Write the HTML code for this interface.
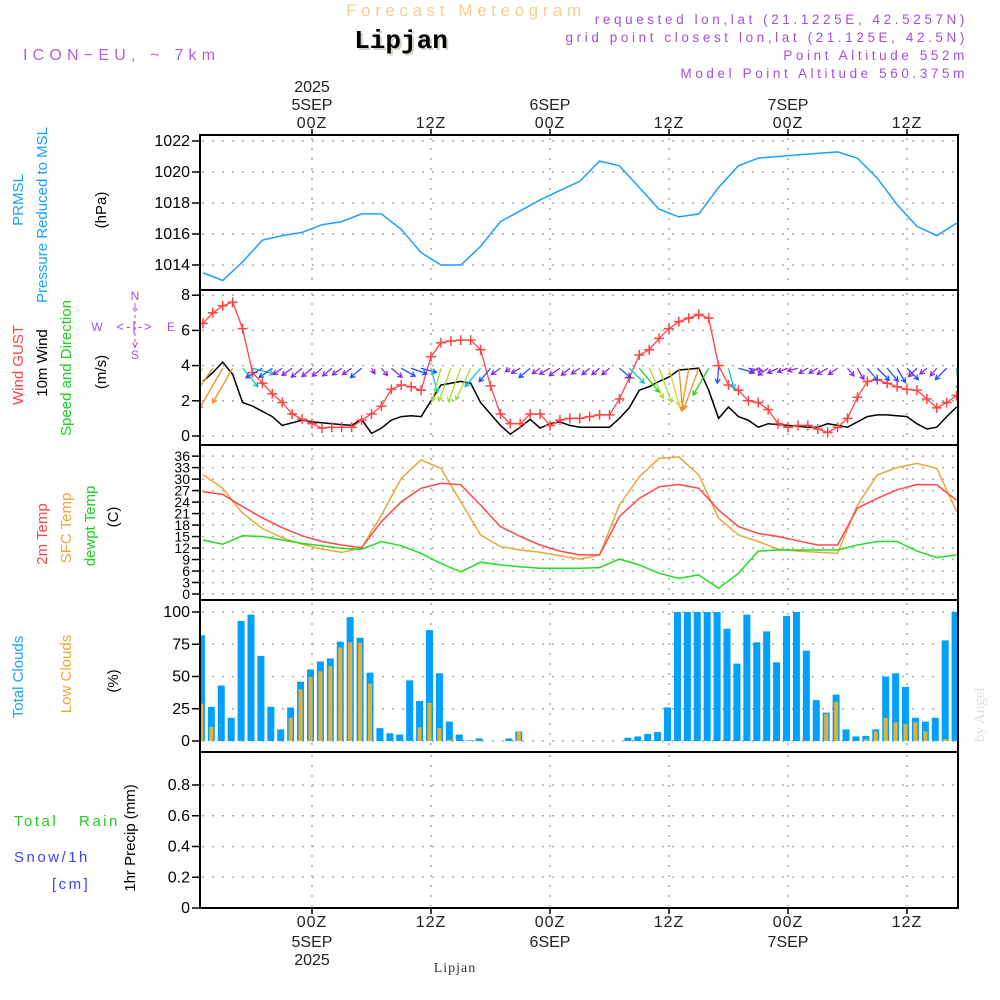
<!DOCTYPE html>
<html><head><meta charset="utf-8"><style>
html,body{margin:0;padding:0;background:#fff;}
svg{display:block;font-family:"Liberation Sans",sans-serif;}
</style></head><body>
<svg id="chart" width="1000" height="1000" viewBox="0 0 1000 1000" xmlns="http://www.w3.org/2000/svg">
<rect width="1000" height="1000" fill="#fff"/>
<text x="466" y="16" text-anchor="middle" font-size="17" letter-spacing="4.6" fill="#f5cf8c">Forecast Meteogram</text>
<text x="403" y="50" text-anchor="middle" font-family="Liberation Mono,monospace" font-weight="bold" font-size="26" fill="#cdd8c8">Lipjan</text>
<text x="401" y="48" text-anchor="middle" font-family="Liberation Mono,monospace" font-weight="bold" font-size="26" fill="#000">Lipjan</text>
<text x="23" y="60" font-size="16" letter-spacing="5.2" fill="#b060e0">ICON−EU, ~ 7km</text>
<g font-size="13.5" letter-spacing="3.6" fill="#a050e0" text-anchor="end">
<text x="968" y="24">requested lon,lat (21.1225E, 42.5257N)</text>
<text x="968" y="42">grid point closest lon,lat (21.125E, 42.5N)</text>
<text x="968" y="60">Point Altitude 552m</text>
<text x="968" y="78">Model Point Altitude 560.375m</text>
</g>
<g id="axislabels" font-size="14.5"></g>
<g id="plot"></g>
<text transform="translate(984,742) rotate(-90)" font-family="Liberation Serif,serif" font-size="15" fill="#d8e4d4">by Angel</text>
<text x="455" y="972" text-anchor="middle" font-family="Liberation Serif,serif" font-size="14" letter-spacing="1" fill="#333">Lipjan</text>
</svg>
<script>
// ---- data (hour offsets relative to 00Z 5 SEP) ----
const hours = [];
for (let h = -11; h <= 65; h++) hours.push(h);
const hours2 = [];
for (let h = -11; h <= 65; h += 2) hours2.push(h);
const timeTickHours = [0, 12, 24, 36, 48, 60];
const timeTickLabels = ["00Z", "12Z", "00Z", "12Z", "00Z", "12Z"];
const dateLabels = ["5SEP", "", "6SEP", "", "7SEP", ""];
const pressure = [1013.5,1013.0,1014.2,1015.6,1015.9,1016.1,1016.6,1016.8,1017.3,1017.3,1016.3,1014.8,1014.0,1014.0,1015.2,1016.8,1017.5,1018.2,1018.8,1019.4,1020.7,1020.4,1019.0,1017.6,1017.1,1017.3,1019.0,1020.4,1020.9,1021.0,1021.1,1021.2,1021.3,1020.9,1019.6,1017.9,1016.5,1015.9,1016.7];
const gust = [6.4,7.0,7.4,7.6,6.1,3.6,3.0,2.4,1.9,1.25,0.95,0.7,0.45,0.5,0.5,0.5,0.9,1.25,1.7,2.65,2.9,2.8,2.6,4.5,5.3,5.4,5.45,5.45,4.9,2.85,1.25,0.7,0.7,1.25,1.25,0.6,0.9,1.0,1.0,1.1,1.2,1.2,2.1,3.3,4.6,4.9,5.55,6.1,6.5,6.7,6.9,6.7,4.0,2.9,2.6,2.0,1.9,1.5,0.7,0.5,0.6,0.6,0.4,0.2,0.5,1.0,2.2,3.1,3.2,3.0,2.8,2.65,2.6,2.1,1.6,1.9,2.3];
const windSpeed = [3.1,3.6,4.2,3.5,1.9,1.7,1.4,1.1,0.6,0.75,0.9,0.8,0.75,0.7,0.65,0.6,0.95,0.15,0.45,0.9,1.1,1.15,1.1,2.0,2.9,3.0,3.1,3.0,1.9,1.25,0.6,0.1,0.5,0.95,0.45,0.7,0.8,0.6,0.5,0.5,0.5,0.5,1.0,1.6,2.6,2.8,3.1,3.35,3.75,3.8,3.85,2.6,1.0,1.65,1.1,0.9,0.5,0.7,0.65,0.6,0.55,0.5,0.5,0.7,0.6,0.5,0.8,1.1,1.2,1.2,1.15,1.1,0.7,0.4,0.5,1.1,1.65];
const windDir = [35,35,30,30,320,285,60,55,55,55,50,50,50,50,55,55,50,330,320,310,300,290,285,345,15,20,20,25,40,40,55,55,60,50,55,60,55,50,55,50,50,50,310,315,320,335,340,345,355,10,20,30,5,345,285,280,60,55,65,70,75,60,60,60,55,320,330,320,315,320,330,315,45,50,40,45,355];
const temp2m = [26.7,26.0,22.8,19.9,17.3,15.2,13.7,12.8,12.1,18.9,24.1,27.6,28.9,28.5,23.2,17.6,15.0,12.8,11.2,10.2,10.2,20.2,25.0,28.0,28.6,27.6,21.9,17.6,15.8,15.0,13.9,12.8,12.8,22.4,25.0,27.2,28.6,28.5,24.5];
const tempSfc = [31.2,27.6,21.1,17.1,14.7,13.0,11.7,10.9,12.0,20.6,30.2,35.0,32.8,24.1,15.4,12.4,11.5,10.9,10.0,9.1,10.2,23.2,30.6,35.4,35.8,31.1,19.8,15.4,13.7,11.7,11.2,10.9,10.6,23.2,31.1,33.0,34.1,32.8,21.5];
const dewpt = [14.1,13.0,15.2,15.0,14.1,13.2,12.6,11.9,11.7,13.7,12.6,10.6,8.0,5.8,8.3,7.6,7.1,6.7,6.7,6.7,6.9,9.1,7.6,5.4,4.1,5.0,1.5,5.4,11.2,11.5,11.5,11.5,11.5,12.8,13.7,13.7,11.2,9.5,10.2];
const totalClouds = [82,26.5,43,18,93,98,66,26.5,9,26,46,55.5,61.6,64,77,96,80,53,10,6,5,47,31,86,52.5,15,5,0.5,2,0,0,2,7.5,0,0,0,0,0,0,0,0,0,0,2.5,3.5,5.5,7,26,100,100,100,100,100,87,60,98,76.5,85,61,97,100,70,31.7,22,36,9,3.5,4,9,50,52.5,42,18,15,18,78,100];
const lowClouds = [29,11,0,0,0,0,0,0,0,18,40,49.6,54,58,72.5,76.5,76,44.5,0,0,0,0,10.6,29.6,10,1,0,0,0,0,0,0,7.5,0,0,0,0,0,0,0,0,0,0,0,0,0,0,0,0,0,0,0,0,0,0,0,0,0,0,0,0,0,0,21,30.5,0,0,1.5,7.5,18,14.5,13,14.5,7.5,0,1.5,0];
const precip = hours.map(() => 0);
const pressTicks = [1014,1016,1018,1020,1022];
const windTicks = [0,2,4,6,8];
const tempTicks = [0,3,6,9,12,15,18,21,24,27,30,33,36];
const cloudTicks = [0,25,50,75,100];
const precipTicks = [0,0.2,0.4,0.6,0.8];

// ---- layout ----
const X0 = 200, X1 = 958;
const xh = h => 312 + h * 9.917;
const panels = {
  p: {top:135, bot:290, y:v => 141 + (1022 - v) * 15.5},
  w: {top:290, bot:445, y:v => 436 - v * 17.6},
  t: {top:445, bot:600, y:v => 594 - v * 3.83},
  c: {top:600, bot:752, y:v => 741 - v * 1.29},
  r: {top:752, bot:908, y:v => 908 - v * 153.75}
};
const NS = "http://www.w3.org/2000/svg";
const plot = document.getElementById('plot');
const labs = document.getElementById('axislabels');
function mk(tag, attrs, parent) {
  const e = document.createElementNS(NS, tag);
  for (const k in attrs) e.setAttribute(k, attrs[k]);
  (parent || plot).appendChild(e);
  return e;
}
const defs = mk('defs', {});
const cp = mk('clipPath', {id:'clip'}, defs);
mk('rect', {x:X0, y:135, width:X1 - X0, height:773}, cp);

function panelFrame(key, ticks, fmt, name, fs) {
  const P = panels[key];
  ticks.forEach(v => {
    const y = P.y(v);
    const g = mk('line', {x1:X0 + 2, x2:X1 - 3, y1:y, y2:y, stroke:'#aaa', 'stroke-width':1.5, 'stroke-dasharray':'2,8'});
    
    
    mk('line', {x1:X0 - 8, x2:X0, y1:y, y2:y, stroke:'#000', 'stroke-width':1.5});
    const t = mk('text', {x:X0 - 10, y:y + 5, 'text-anchor':'end', 'font-size':fs || 16, fill:'#000'});
    t.textContent = fmt(v);
    
    
  });
  timeTickHours.forEach(h => {
    const vl = mk('line', {x1:xh(h), x2:xh(h), y1:P.top + 3, y2:P.bot - 2, stroke:'#aaa', 'stroke-width':1.5, 'stroke-dasharray':'2,8'});
    
    
  });
}
panelFrame('p', pressTicks, v => v, 'pressure-axis');
panelFrame('w', windTicks, v => v, 'wind-axis');
panelFrame('t', tempTicks, v => v, 'temp-axis', 14);
panelFrame('c', cloudTicks, v => v, 'cloud-axis');
panelFrame('r', precipTicks, v => v === 0 ? '0' : v.toFixed(1), 'precip-axis');

function line(xs, ys, color, name, w) {
  const d = xs.map((x, i) => (i ? 'L' : 'M') + x.toFixed(1) + ',' + ys[i].toFixed(1)).join('');
  const p = mk('path', {d:d, fill:'none', stroke:color, 'stroke-width':w || 1.5, 'clip-path':'url(#clip)'});
  
  
  return p;
}
line(hours2.map(xh), pressure.map(panels.p.y), '#1aa0ff', 'pressure-line');
line(hours.map(xh), windSpeed.map(panels.w.y), '#000', 'wind-speed-line');
line(hours.map(xh), gust.map(panels.w.y), '#ff4444', 'wind-gust-line', 1.3);
gust.forEach((v, i) => {
  const x = xh(hours[i]), y = panels.w.y(v);
  const m = mk('path', {d:`M${x-5},${y}H${x+5}M${x},${y-5}V${y+5}`, stroke:'#ff4444', 'stroke-width':1.5, 'clip-path':'url(#clip)'});
  
  
});
function wcol(s) {
  if (s < 0.95) return '#8a2be2';
  if (s < 1.5) return '#2050ff';
  if (s < 2.2) return '#10c0d0';
  if (s < 2.75) return '#20d020';
  if (s < 3.2) return '#a0e030';
  if (s < 3.5) return '#e8d020';
  return '#f09020';
}
windDir.forEach((dir, i) => {
  const s = windSpeed[i];
  const x = xh(hours[i]), y = panels.w.y(3.85);
  const L = 5 + s * 10;
  const a = (dir + 180) * Math.PI / 180;
  const ex = x + Math.sin(a) * L, ey = y - Math.cos(a) * L;
  const ux = Math.sin(a), uy = -Math.cos(a);
  const hl = 5;
  const h1x = ex - hl * (ux * 0.87 - uy * 0.5), h1y = ey - hl * (uy * 0.87 + ux * 0.5);
  const h2x = ex - hl * (ux * 0.87 + uy * 0.5), h2y = ey - hl * (uy * 0.87 - ux * 0.5);
  const p = mk('path', {d:`M${x},${y}L${ex},${ey}M${h1x},${h1y}L${ex},${ey}L${h2x},${h2y}`, fill:'none', stroke:wcol(s), 'stroke-width':1.3, 'clip-path':'url(#clip)'});
  
  
});
line(hours2.map(xh), tempSfc.map(panels.t.y), '#e8a838', 'sfc-temp-line');
line(hours2.map(xh), temp2m.map(panels.t.y), '#ff4848', 'temp-2m-line');
line(hours2.map(xh), dewpt.map(panels.t.y), '#22dd22', 'dewpoint-line');
totalClouds.forEach((v, i) => {
  if (v <= 0) return;
  const x = xh(hours[i]) - 1.5, y = panels.c.y(v);
  const b = mk('rect', {x:x - 3.5, y:y, width:7, height:panels.c.y(0) - y, fill:'#00a0ff', 'clip-path':'url(#clip)'});
  
  
});
lowClouds.forEach((v, i) => {
  if (v <= 0) return;
  const x = xh(hours[i]) - 1.5, y = panels.c.y(v);
  const b = mk('rect', {x:x - 2, y:y, width:4, height:panels.c.y(0) - y, fill:'#e8b030', 'clip-path':'url(#clip)'});
  
  
});
const pl = line(hours.map(xh), precip.map(panels.r.y), '#333', 'precip-line', 1.5);
pl.setAttribute('stroke-dasharray', '4,3');

Object.keys(panels).forEach(k => {
  const P = panels[k];
  const r = mk('rect', {x:X0, y:P.top, width:X1 - X0, height:P.bot - P.top, fill:'none', stroke:'#000', 'stroke-width':2});
  
  
});
timeTickHours.forEach((h, i) => {
  const x = xh(h);
  mk('line', {x1:x, x2:x, y1:129, y2:135, stroke:'#000', 'stroke-width':1.5});
  mk('line', {x1:x, x2:x, y1:908, y2:914, stroke:'#000', 'stroke-width':1.5});
  const t1 = mk('text', {x:x, y:128, 'text-anchor':'middle', 'font-size':16, 'letter-spacing':1, fill:'#222'});
  t1.textContent = timeTickLabels[i];
  
  
  const t2 = mk('text', {x:x, y:927, 'text-anchor':'middle', 'font-size':16, 'letter-spacing':1, fill:'#222'});
  t2.textContent = timeTickLabels[i];
  
  
  if (dateLabels[i]) {
    const d1 = mk('text', {x:x, y:110, 'text-anchor':'middle', 'font-size':16, fill:'#222'});
    d1.textContent = dateLabels[i];
    
    
    const d2 = mk('text', {x:x, y:947, 'text-anchor':'middle', 'font-size':16, fill:'#222'});
    d2.textContent = dateLabels[i];
    
    
  }
});
const y1 = mk('text', {x:xh(0), y:92, 'text-anchor':'middle', 'font-size':16, fill:'#222'}); y1.textContent = '2025';


const y2 = mk('text', {x:xh(0), y:965, 'text-anchor':'middle', 'font-size':16, fill:'#222'}); y2.textContent = '2025';



function vlab(x, y, txt, col, name) {
  const t = mk('text', {transform:`translate(${x},${y}) rotate(-90)`, 'text-anchor':'middle', 'font-size':15, fill:col}, labs);
  t.textContent = txt;
  
  
}
vlab(23, 200, 'PRMSL', '#1aa0ff', 'prmsl-title');
vlab(47, 215, 'Pressure Reduced to MSL', '#1aa0ff', 'pressure-title');
vlab(106, 210, '(hPa)', '#000', 'pressure-unit');
vlab(23, 365, 'Wind GUST', '#ff4444', 'gust-title');
vlab(47, 363, '10m Wind', '#000', 'wind-title');
vlab(71, 368, 'Speed and Direction', '#22cc22', 'wind-subtitle');
vlab(106, 372, '(m/s)', '#000', 'wind-unit');
vlab(47, 534, '2m Temp', '#ff4444', 'temp2m-title');
vlab(71, 528, 'SFC Temp', '#e8a838', 'sfc-temp-title');
vlab(95, 526, 'dewpt Temp', '#22cc22', 'dewpt-title');
vlab(118, 517, '(C)', '#000', 'temp-unit');
vlab(23, 677, 'Total Clouds', '#1aa0ff', 'total-clouds-title');
vlab(71, 674, 'Low Clouds', '#e8a838', 'low-clouds-title');
vlab(118, 681, '(%)', '#000', 'cloud-unit');
vlab(135, 838, '1hr Precip (mm)', '#000', 'precip-title');
function hlab(x, y, txt, col, name) {
  const t = mk('text', {x:x, y:y, 'font-size':15, 'letter-spacing':2.5, fill:col}, labs);
  t.textContent = txt;
  
  
}
hlab(14, 826, 'Total', '#22cc22', 'total-rain-label');
hlab(79, 826, 'Rain', '#22cc22', 'rain-label');
hlab(14, 862, 'Snow/1h', '#4040ff', 'snow-label');
hlab(52, 889, '[cm]', '#4040ff', 'snow-unit');
const cg = mk('g', {fill:'#a050e0', 'font-size':12}, labs);


[['N',135,300],['W',97,331],['E',171,331],['S',135,359]].forEach(a => {
  const t = mk('text', {x:a[1], y:a[2], 'text-anchor':'middle'}, cg); t.textContent = a[0];
});
mk('text', {x:135, y:331, 'text-anchor':'middle', 'font-size':13, 'letter-spacing':2}, cg).textContent = '<-|->';
mk('text', {x:135, y:314, 'text-anchor':'middle', 'font-size':11}, cg).textContent = '^';
mk('text', {x:135, y:348, 'text-anchor':'middle', 'font-size':11}, cg).textContent = 'v';
mk('line', {x1:135, x2:135, y1:303, y2:346, stroke:'#a050e0', 'stroke-dasharray':'3,3'}, cg);
</script>
</body></html>
